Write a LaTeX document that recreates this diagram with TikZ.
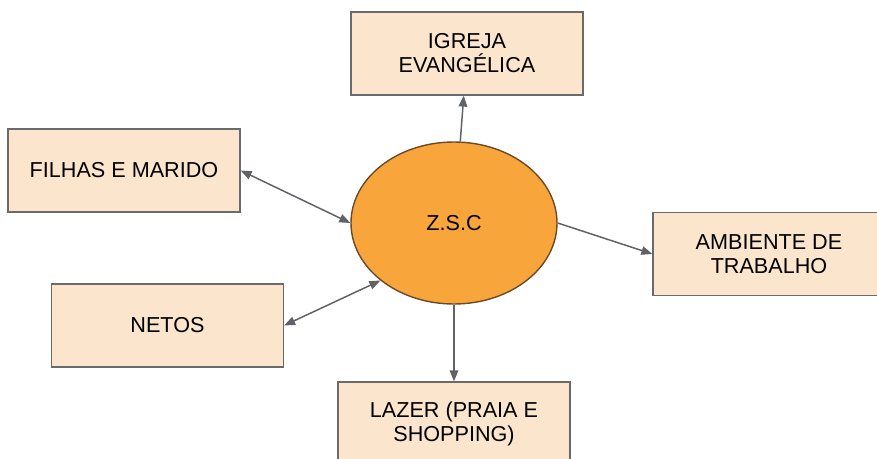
\documentclass[tikz,border=0pt]{standalone}
\usepackage{fontspec}
\setmainfont{Liberation Sans}
\usetikzlibrary{arrows.meta,shapes.geometric}
\definecolor{boxfill}{HTML}{FCE5CD}
\definecolor{boxline}{HTML}{6A6A6A}
\definecolor{orangefill}{HTML}{F8A63B}
\definecolor{orangeline}{HTML}{6B4A2A}
\definecolor{arrowgray}{HTML}{5F6368}
\begin{document}
\begin{tikzpicture}[every node/.style={font=\fontsize{12.3}{13.6}\selectfont}, >={Triangle[length=2.2mm,width=1.7mm]}, bx/.style={draw=boxline, line width=0.7pt, fill=boxfill, minimum width=4.64cm, minimum height=1.66cm, align=center, inner sep=2pt}, conn/.style={draw=arrowgray, line width=0.85pt}]
	\useasboundingbox (0,0) rectangle (17.54,-9.18);
	\clip (0,0) rectangle (17.54,-9.18);
	\node[ellipse, draw=orangeline, line width=0.8pt, fill=orangefill, minimum width=4.12cm, minimum height=3.24cm, inner sep=0pt] (zsc) at (9.08,-4.46) {Z.S.C};
	\node[bx] (igreja) at (9.34,-1.07) {IGREJA\\EVANGÉLICA};
	\node[bx] (filhas) at (2.48,-3.41) {FILHAS E MARIDO};
	\node[bx] (ambiente) at (15.38,-5.08) {AMBIENTE DE\\TRABALHO};
	\node[bx] (netos) at (3.35,-6.51) {NETOS};
	\node[bx] (lazer) at (9.08,-8.47) {LAZER (PRAIA E\\SHOPPING)};
	\draw[conn, ->] (zsc) -- (igreja);
	\draw[conn, <->] (filhas.east) -- (zsc.west);
	\draw[conn, <->] (netos.east) -- (zsc.218);
	\foreach \a/\b in {zsc.east/ambiente.west, zsc.south/lazer.north} {\draw[conn, ->] (\a) -- (\b);}
\end{tikzpicture}
\end{document}
